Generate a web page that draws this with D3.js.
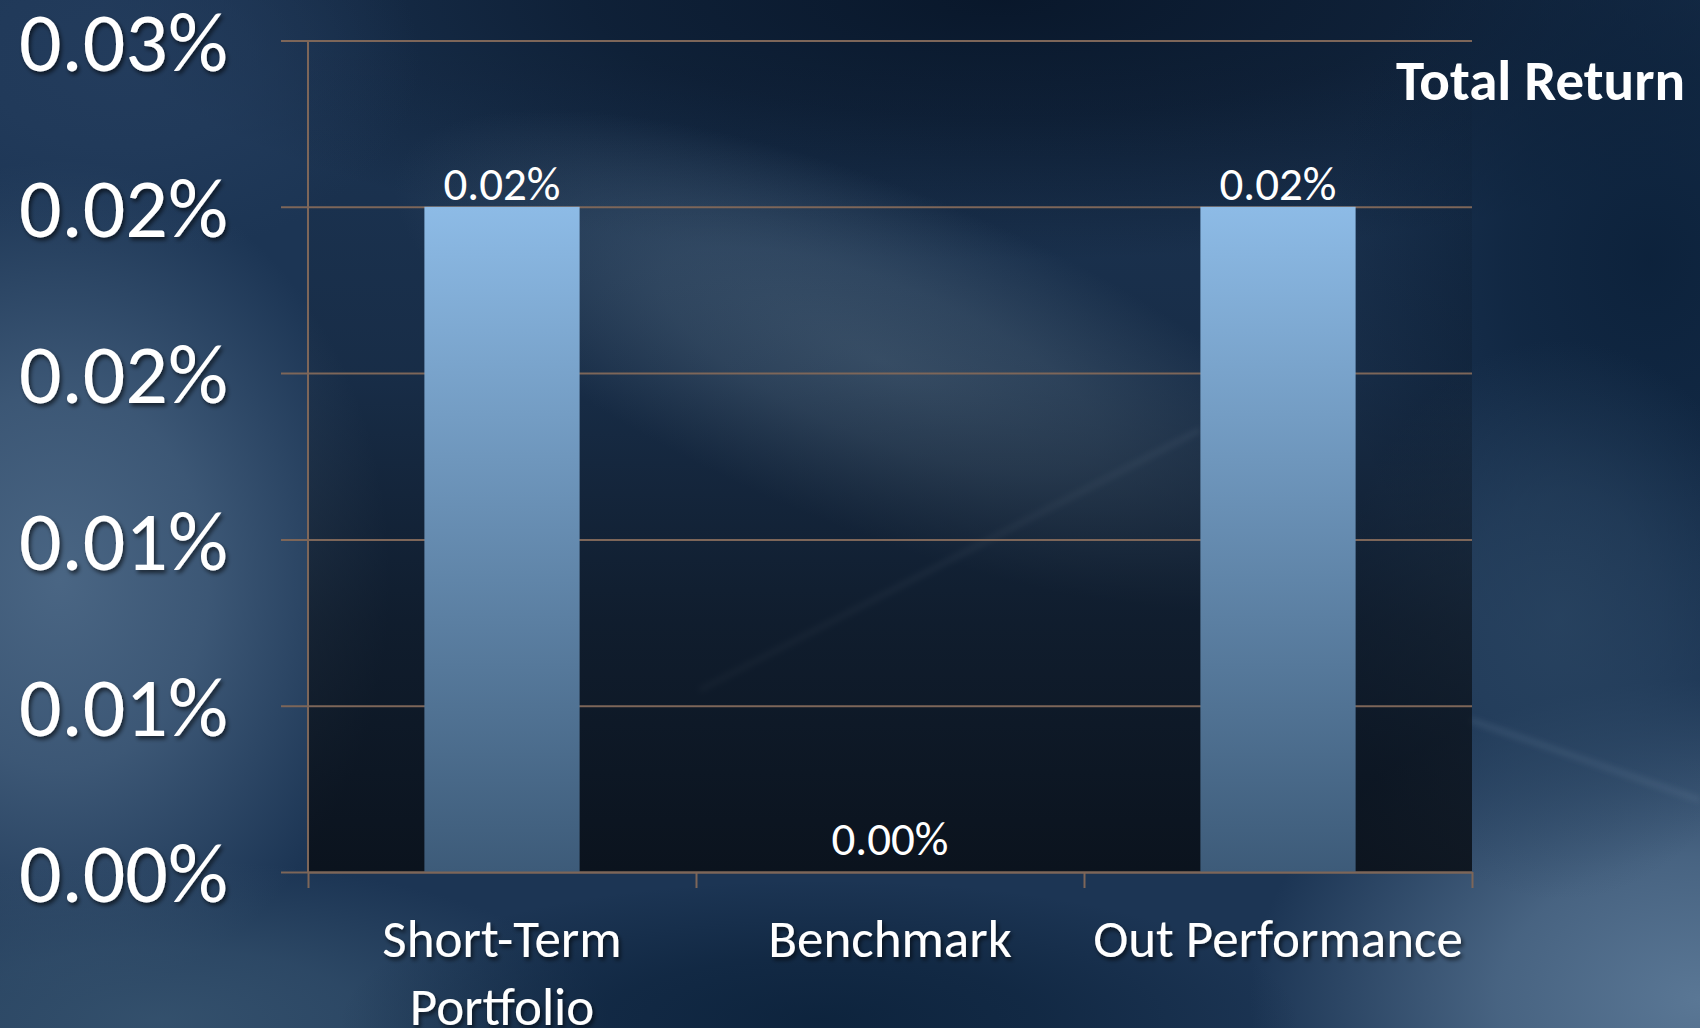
<!DOCTYPE html>
<html>
<head>
<meta charset="utf-8">
<script src="https://cdn.jsdelivr.net/npm/d3@7"></script>
<style>
  html, body { margin: 0; padding: 0; background: #1a3352; }
  svg { display: block; }
  text { font-family: Carlito, Lato, "Open Sans", sans-serif; fill: #fff; }
</style>
</head>
<body>
<div id="chart"></div>
<script>
// chart data
const categories = ["Short-Term Portfolio", "Benchmark", "Out Performance"];
const categoryLines = [["Short-Term", "Portfolio"], ["Benchmark"], ["Out Performance"]];
const totalReturn = [0.02, 0.00, 0.02];            // percent
const yTickValues = [0, 0.005, 0.01, 0.015, 0.02, 0.025];
const yTickLabels = ["0.00%", "0.01%", "0.01%", "0.02%", "0.02%", "0.03%"];
const chartTitle = "Total Return";

const svgWidth = 1700;
const svgHeight = 1028;
const margin = { top: 40.5, right: 228, bottom: 156, left: 308 };
const chartWidth = svgWidth - margin.left - margin.right;
const chartHeight = svgHeight - margin.top - margin.bottom;

const svg = d3.select("#chart")
  .append("svg")
  .attr("width", svgWidth)
  .attr("height", svgHeight);

const defs = svg.append("defs");

defs.append("filter").attr("id", "streak")
  .attr("x", "-50%").attr("y", "-50%").attr("width", "200%").attr("height", "200%")
  .append("feGaussianBlur").attr("stdDeviation", 3);

const shadow = defs.append("filter").attr("id", "txtShadow")
  .attr("x", "-10%").attr("y", "-20%").attr("width", "130%").attr("height", "150%");
shadow.append("feDropShadow")
  .attr("dx", 2).attr("dy", 3).attr("stdDeviation", 2)
  .attr("flood-color", "#000").attr("flood-opacity", 0.6);

const barGrad = defs.append("linearGradient").attr("id", "barGrad")
  .attr("x1", 0).attr("y1", 0).attr("x2", 0).attr("y2", 1);
barGrad.append("stop").attr("offset", "0%").attr("stop-color", "#8dbbe6");
barGrad.append("stop").attr("offset", "100%").attr("stop-color", "#3d5b79");

const plotGrad = defs.append("linearGradient").attr("id", "plotGrad")
  .attr("x1", 0).attr("y1", 0).attr("x2", 0).attr("y2", 1);
plotGrad.append("stop").attr("offset", "0%").attr("stop-color", "#050b14").attr("stop-opacity", 0);
plotGrad.append("stop").attr("offset", "40%").attr("stop-color", "#070c14").attr("stop-opacity", 0.2);
plotGrad.append("stop").attr("offset", "70%").attr("stop-color", "#080d14").attr("stop-opacity", 0.6);
plotGrad.append("stop").attr("offset", "100%").attr("stop-color", "#080d14").attr("stop-opacity", 0.85);

// soft cloudy background made of radial blobs
const bg = svg.append("g");
bg.append("rect").attr("width", svgWidth).attr("height", svgHeight).attr("fill", "#1c3554");

let blobId = 0;
function blob(cx, cy, rx, ry, color, opacity, angle = 0) {
  const id = "blob" + (blobId++);
  const rg = defs.append("radialGradient").attr("id", id);
  rg.append("stop").attr("offset", "0%").attr("stop-color", color).attr("stop-opacity", opacity);
  rg.append("stop").attr("offset", "45%").attr("stop-color", color).attr("stop-opacity", opacity * 0.7);
  rg.append("stop").attr("offset", "100%").attr("stop-color", color).attr("stop-opacity", 0);
  bg.append("ellipse")
    .attr("cx", cx).attr("cy", cy).attr("rx", rx).attr("ry", ry)
    .attr("transform", `rotate(${angle} ${cx} ${cy})`)
    .attr("fill", `url(#${id})`);
}
blob(1000, 0, 900, 260, "#081629", 0.95);
blob(1650, 260, 320, 420, "#0b2039", 0.9);
blob(60, 580, 330, 420, "#4c6886", 0.95);
blob(1700, 1000, 450, 320, "#5a7795", 1);
blob(160, 1020, 450, 160, "#36536f", 0.9);
blob(880, 360, 520, 170, "#46607b", 0.9, 22);
blob(820, 1020, 480, 140, "#0c223b", 0.9);
blob(1560, 620, 220, 280, "#2a4562", 0.8);
blob(120, 60, 300, 200, "#263f60", 0.7);

// faint light streaks
bg.append("line").attr("x1", 700).attr("y1", 690).attr("x2", 1200).attr("y2", 430)
  .attr("stroke", "#6c86a0").attr("stroke-opacity", 0.35).attr("stroke-width", 4).attr("filter", "url(#streak)");
bg.append("line").attr("x1", 1470).attr("y1", 720).attr("x2", 1700).attr("y2", 800)
  .attr("stroke", "#6c86a0").attr("stroke-opacity", 0.3).attr("stroke-width", 4).attr("filter", "url(#streak)");

const g = svg.append("g")
  .attr("transform", `translate(${margin.left},${margin.top})`);

let x = d3.scaleBand()
  .domain(categories)
  .range([0, chartWidth])
  .paddingInner(0.6)
  .paddingOuter(0.3);

let xEdge = d3.scaleLinear()
  .domain([0, categories.length])
  .range([0, chartWidth]);

let y = d3.scaleLinear()
  .domain([0, 0.025])
  .range([chartHeight, 0]);

// plot area darkening
g.append("rect")
  .attr("width", chartWidth)
  .attr("height", chartHeight)
  .attr("fill", "url(#plotGrad)");

// gridlines + y labels
const yAxis = g.append("g")
  .attr("transform", "translate(-27,0)")
  .call(d3.axisLeft(y)
    .tickValues(yTickValues)
    .tickFormat((d, i) => yTickLabels[i])
    .tickSize(-(chartWidth + 27))
    .tickPadding(53));
yAxis.select(".domain").remove();
yAxis.selectAll(".tick line").attr("stroke", "#7d6659").attr("stroke-width", 2);
yAxis.selectAll(".tick text")
  .attr("font-size", 84)
  .attr("fill", "#fff")
  .attr("dy", "0.355em")
  .attr("filter", "url(#txtShadow)");

// bars
g.selectAll(".bar")
  .data(totalReturn)
  .join("rect")
  .attr("class", "bar")
  .attr("x", (d, i) => x(categories[i]))
  .attr("y", d => y(d))
  .attr("width", x.bandwidth())
  .attr("height", d => y(0) - y(d))
  .attr("fill", "url(#barGrad)");

// y axis line
g.append("line")
  .attr("x1", 0).attr("x2", 0)
  .attr("y1", y(0.025)).attr("y2", y(0))
  .attr("stroke", "#7d6659").attr("stroke-width", 2);

// x axis
const xAxis = g.append("g")
  .attr("transform", `translate(0,${chartHeight})`)
  .call(d3.axisBottom(xEdge)
    .tickValues(d3.range(categories.length + 1))
    .tickFormat("")
    .tickSize(16)
    .tickSizeOuter(0));
xAxis.select(".domain").attr("stroke", "#7d6659").attr("stroke-width", 2);
xAxis.selectAll(".tick line").attr("stroke", "#7d6659").attr("stroke-width", 2);

// category labels
const cat = g.selectAll(".cat")
  .data(categoryLines)
  .join("text")
  .attr("class", "cat")
  .attr("text-anchor", "middle")
  .attr("font-size", 53)
  .attr("filter", "url(#txtShadow)")
  .attr("transform", (d, i) => `translate(${x(categories[i]) + x.bandwidth() / 2},${chartHeight + 85})`);
cat.selectAll("tspan")
  .data(d => d)
  .join("tspan")
  .attr("x", 0)
  .attr("y", (d, i) => i * 68)
  .text(d => d);

// value labels
g.selectAll(".val")
  .data(totalReturn)
  .join("text")
  .attr("class", "val")
  .attr("text-anchor", "middle")
  .attr("font-size", 47)
  .attr("x", (d, i) => x(categories[i]) + x.bandwidth() / 2)
  .attr("y", d => y(d) - (d > 0 ? 7 : 17))
  .text(d => d3.format(".2f")(d) + "%");

// title
svg.append("text")
  .attr("x", 1685)
  .attr("y", 100)
  .attr("text-anchor", "end")
  .attr("font-size", 57)
  .attr("font-weight", "bold")
  .text(chartTitle);
</script>
</body>
</html>
